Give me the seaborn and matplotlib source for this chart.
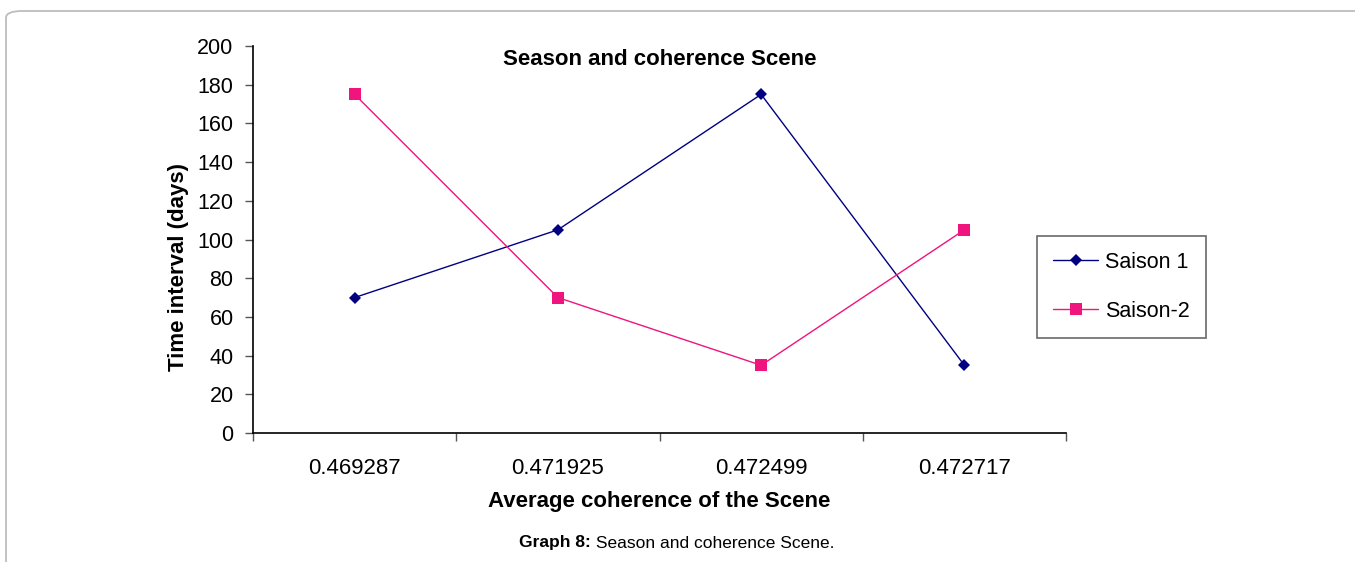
import matplotlib
matplotlib.use("Agg")
import matplotlib.pyplot as plt
import seaborn as sns
import pandas as pd
from matplotlib.patches import FancyBboxPatch
from matplotlib.lines import Line2D

categories = ["0.469287", "0.471925", "0.472499", "0.472717"]
saison1 = [70, 105, 175, 35]
saison2 = [175, 70, 35, 105]
series_names = ["Saison 1", "Saison-2"]
y_ticks = [0, 20, 40, 60, 80, 100, 120, 140, 160, 180, 200]

sns.set_theme(style="white")
plt.rcParams["font.family"] = ["Liberation Sans", "DejaVu Sans"]
plt.rcParams["text.color"] = "black"
plt.rcParams["axes.labelcolor"] = "black"
plt.rcParams["xtick.color"] = "black"
plt.rcParams["ytick.color"] = "black"

rows = []
for i, c in enumerate(categories):
    rows.append({"pos": i, "value": saison1[i], "series": series_names[0]})
    rows.append({"pos": i, "value": saison2[i], "series": series_names[1]})
df = pd.DataFrame(rows)

fig = plt.figure(figsize=(13.55, 5.62), dpi=100)
fig.patch.set_facecolor("white")

# outer rounded frame
frame = FancyBboxPatch((6 / 1355, -0.1), 1.2, 1.1 - 11 / 562,
                       boxstyle="round,pad=0,rounding_size=0.012",
                       transform=fig.transFigure, facecolor="none",
                       edgecolor="#bdbdbd", linewidth=1.3, zorder=-5)
fig.patches.append(frame)

ax = fig.add_axes([253 / 1355, 1 - 433 / 562, 813 / 1355, 387 / 562])
ax.set_facecolor("none")

pink = "#F0147F"
navy = "#000080"
palette = {series_names[0]: navy, series_names[1]: pink}
sns.lineplot(data=df, x="pos", y="value", hue="series", style="series",
             palette=palette, markers={series_names[0]: "D", series_names[1]: "s"},
             dashes=False, linewidth=1.0, markeredgewidth=0,
             ax=ax, legend=False)
for line in ax.get_lines():
    if line.get_marker() == "D":
        line.set_markersize(6)
    elif line.get_marker() == "s":
        line.set_markersize(8)

ax.set_xlim(-0.5, len(categories) - 0.5)
ax.set_ylim(0, 200)
ax.set_yticks(y_ticks)
ax.set_yticklabels([str(v) for v in y_ticks], fontsize=15.5)
ax.set_xticks([i - 0.5 for i in range(len(categories) + 1)])
ax.set_xticklabels([])
ax.set_xticks(range(len(categories)), minor=True)
ax.set_xticklabels(categories, minor=True, fontsize=16)
ax.tick_params(axis="x", which="minor", length=0, pad=18)
ax.tick_params(axis="x", which="major", direction="out", length=6, width=1, color="#555555")
ax.tick_params(axis="y", direction="out", length=6, width=1, color="#555555", pad=8)
ax.xaxis.set_tick_params(bottom=True)
ax.yaxis.set_tick_params(left=True)

for s in ["top", "right"]:
    ax.spines[s].set_visible(False)
for s in ["left", "bottom"]:
    ax.spines[s].set_color("black")
    ax.spines[s].set_linewidth(1.2)

ax.set_xlabel("Average coherence of the Scene", fontsize=16, fontweight="bold", labelpad=9)
ax.set_ylabel("Time interval (days)", fontsize=16, fontweight="bold")
ax.yaxis.set_label_coords((189 - 253) / 813, (433 - 267) / 387)
ax.set_title("Season and coherence Scene", fontsize=16, fontweight="bold", y=0.93)

handles = [Line2D([], [], color=navy, marker="D", markersize=6, markeredgewidth=0, linewidth=1),
           Line2D([], [], color=pink, marker="s", markersize=8, markeredgewidth=0, linewidth=1)]
leg = fig.legend(handles, series_names, loc="center left",
                 bbox_to_anchor=(1037 / 1355, 1 - 287 / 562), fontsize=15.5,
                 frameon=True, fancybox=False, edgecolor="#444444",
                 borderpad=0.75, labelspacing=1.3, handlelength=2.1, handletextpad=0.3,
                 borderaxespad=0)
leg.get_frame().set_linewidth(1.2)
for t in leg.get_texts():
    t.set_color("black")

cy = 1 - 543 / 562
t1 = fig.text(0.5, cy, "Graph 8:", ha="right", va="center",
              fontsize=12.5, fontweight="bold")
t2 = fig.text(0.5, cy, " Season and coherence Scene.", ha="left",
              va="center", fontsize=12.5)
fig.canvas.draw()
w1 = t1.get_window_extent().width / 1355
w2 = t2.get_window_extent().width / 1355
x0 = 677 / 1355 - (w1 + w2) / 2 + w1
t1.set_position((x0, cy))
t2.set_position((x0, cy))

fig.savefig("out.png", dpi=100)
